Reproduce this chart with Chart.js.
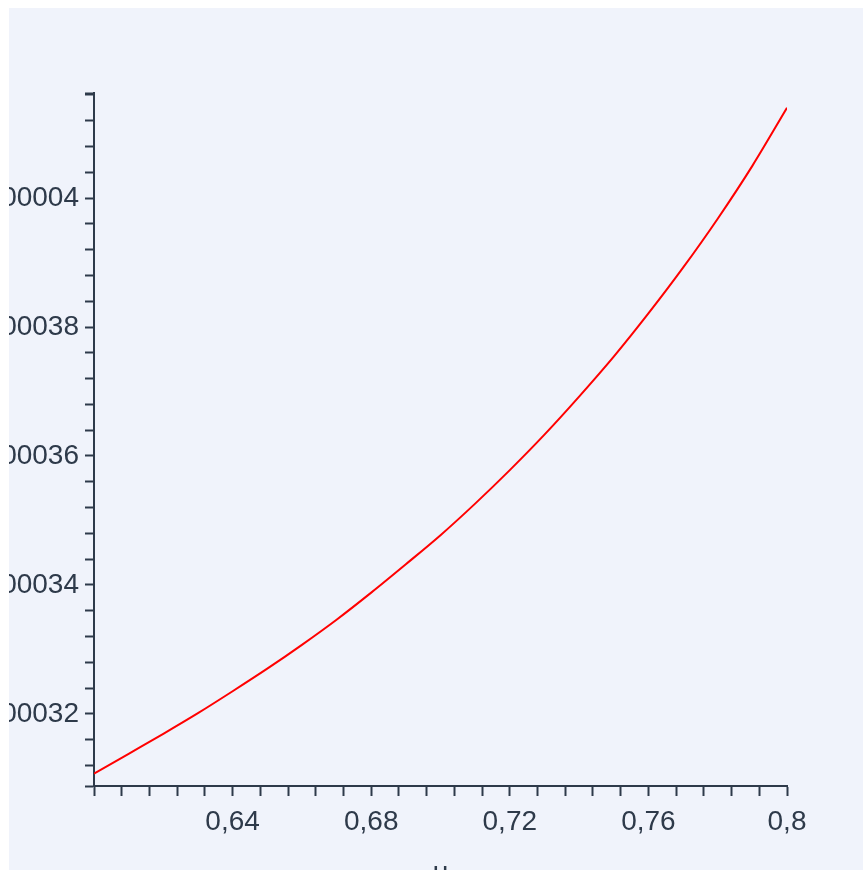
<!DOCTYPE html>
<html>
<head>
<meta charset="utf-8">
<style>
  html, body { margin: 0; padding: 0; background: #fff; overflow: hidden; width: 863px; height: 870px; }
  #plot { position: absolute; left: 9px; top: 8px; background: #f0f3fb; }
</style>
</head>
<body>
<canvas id="plot" width="854" height="900"></canvas>
<script src="https://cdn.jsdelivr.net/npm/chart.js@4/dist/chart.umd.min.js"></script>
<script>
"use strict";

// curve samples
const uValues = [0.60, 0.61, 0.62, 0.63, 0.64, 0.65, 0.66, 0.67, 0.68, 0.69, 0.70,
  0.71, 0.72, 0.73, 0.74, 0.75, 0.76, 0.77, 0.78, 0.79, 0.80];
const curveValues = [0.00003107, 0.00003138, 0.00003169, 0.00003201, 0.00003235,
  0.00003270, 0.00003307, 0.00003346, 0.00003388, 0.00003432, 0.00003477,
  0.00003526, 0.00003578, 0.00003633, 0.00003692, 0.00003754, 0.00003821,
  0.00003892, 0.00003968, 0.00004050, 0.00004140];

// labelled ticks
const xTickValues = [0.64, 0.68, 0.72, 0.76, 0.8];
const xTickLabels = ["0,64", "0,68", "0,72", "0,76", "0,8"];
const yTickValues = [0.000032, 0.000034, 0.000036, 0.000038, 0.00004];
const yTickLabels = ["0,000032", "0,000034", "0,000036", "0,000038", "0,00004"];

// axis ranges and small tick spacing
const xMin = 0.6;
const xMax = 0.8;
const xMinorStep = 0.008;
const yMin = 0.00003088;
const yMax = 0.00004163;
const yMinorStep = 0.0000004;

const axisColor = "#2e3a4a";
const tickFont = { family: "'Liberation Sans', Arial, sans-serif", size: 28 };

function labelFor(value, values, labels, tol) {
  const i = values.findIndex((v) => Math.abs(v - value) < tol);
  return i === -1 ? "" : labels[i];
}

const points = uValues.map((u, i) => ({ x: u, y: curveValues[i] }));

const ctx = document.getElementById("plot").getContext("2d");
const plot = new Chart(ctx, {
  type: "scatter",
  data: {
    datasets: [
      {
        data: points,
        showLine: true,
        borderColor: "#ff0000",
        borderWidth: 2,
        pointRadius: 0,
        cubicInterpolationMode: "monotone",
      },
    ],
  },
  options: {
    responsive: false,
    animation: false,
    devicePixelRatio: 1,
    layout: { padding: { left: 0, top: 85, right: 76, bottom: 0 } },
    plugins: { legend: { display: false }, tooltip: { enabled: false } },
    scales: {
      x: {
        type: "linear",
        min: xMin,
        max: xMax,
        afterBuildTicks: (scale) => {
          const ticks = [];
          for (let i = 0; i <= 25; i++) ticks.push({ value: xMin + i * xMinorStep });
          scale.ticks = ticks;
        },
        afterFit: (scale) => {
          scale.height = 122;
        },
        ticks: {
          autoSkip: false,
          maxRotation: 0,
          padding: 9,
          color: axisColor,
          font: tickFont,
          callback: (value) => labelFor(value, xTickValues, xTickLabels, 1e-6),
        },
        grid: {
          drawOnChartArea: false,
          drawTicks: true,
          tickLength: 10,
          tickWidth: 2,
          tickColor: axisColor,
        },
        border: { display: true, color: axisColor, width: 2 },
        title: {
          display: true,
          text: "u",
          color: axisColor,
          font: tickFont,
          padding: { top: 0, bottom: 18 },
        },
      },
      y: {
        type: "linear",
        min: yMin,
        max: yMax,
        afterBuildTicks: (scale) => {
          const ticks = [{ value: yMin }];
          for (let i = 0; i <= 26; i++) ticks.push({ value: 0.0000312 + i * yMinorStep });
          ticks.push({ value: yMax });
          scale.ticks = ticks;
        },
        afterFit: (scale) => {
          scale.width = 85;
        },
        ticks: {
          autoSkip: false,
          padding: 6,
          color: axisColor,
          font: tickFont,
          callback: (value) => labelFor(value, yTickValues, yTickLabels, 1e-10),
        },
        grid: {
          drawOnChartArea: false,
          drawTicks: true,
          tickLength: 9,
          tickWidth: 2,
          tickColor: axisColor,
        },
        border: { display: true, color: axisColor, width: 2 },
      },
    },
  },
});
</script>
</body>
</html>
